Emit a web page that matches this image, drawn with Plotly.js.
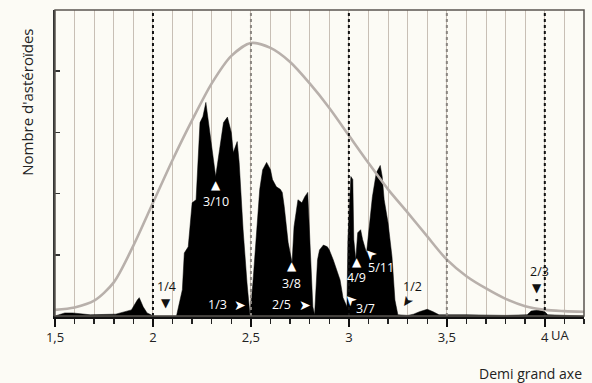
<!DOCTYPE html>
<html>
<head>
<meta charset="utf-8">
<script src="https://cdn.plot.ly/plotly-3.0.1.min.js"></script>
<style>html,body{margin:0;padding:0;background:#fcfbf5;}#chart{width:592px;height:383px;}</style>
</head>
<body>
<div id="chart"></div>
<script>
// Distribution of asteroids (black fill) by semi-major axis (AU)
const histX = [1.50,1.55,1.59,1.68,1.81,1.86,1.89,1.92,1.93,1.95,1.97,1.99,2.00,2.12,
  2.15,2.16,2.18,2.20,2.22,2.24,2.255,2.27,2.285,2.31,2.32,2.34,2.36,2.38,2.40,2.41,2.43,2.44,2.46,2.48,2.495,
  2.51,2.53,2.545,2.56,2.58,2.60,2.61,2.63,2.65,2.66,2.67,2.69,2.71,2.72,2.74,2.76,2.775,2.79,2.80,2.816,2.825,
  2.84,2.85,2.87,2.89,2.90,2.92,2.94,2.955,2.97,2.99,2.995,3.01,3.02,3.025,3.035,3.045,3.06,3.07,3.09,
  3.105,3.12,3.14,3.16,3.17,3.18,3.20,3.22,3.235,3.25,3.30,3.33,3.36,3.40,3.43,3.46,3.60,3.80,3.91,3.93,3.97,4.00,4.015,4.20];
const histY = [0,0.05,0.05,0.02,0.03,0.07,0.10,0.26,0.30,0.15,0.05,0.02,0,0,
  0.43,1.03,1.13,1.85,1.90,3.16,3.26,3.49,3.10,2.44,2.28,2.72,3.16,3.25,3.00,2.67,2.85,2.51,1.41,0.54,0.02,
  0.54,1.36,2.07,2.39,2.51,2.39,2.23,2.11,2.07,2.02,1.79,1.20,0.87,1.46,1.90,1.85,1.95,2.02,1.36,0.15,0.02,
  0.92,1.08,1.16,1.13,1.08,0.92,0.72,0.59,0.30,0.15,1.25,2.28,2.23,1.25,0.92,1.36,1.41,1.25,1.03,
  1.52,1.95,2.34,2.46,2.28,1.90,1.52,0.97,0.26,0.02,0.01,0.03,0.07,0.11,0.07,0.02,0.02,0.01,0.02,0.08,0.10,0.07,0.02,0];

// Expected smooth distribution (grey curve)
const curveX = [1.5,1.6,1.7,1.8,1.9,2.0,2.1,2.2,2.3,2.4,2.5,2.6,2.7,2.8,2.9,3.0,3.1,3.2,3.3,3.4,3.5,3.6,3.7,3.8,3.9,4.0,4.1,4.2];
const curveY = [0.10,0.14,0.25,0.55,1.15,1.85,2.55,3.20,3.80,4.25,4.46,4.38,4.15,3.80,3.40,2.95,2.50,2.07,1.69,1.30,0.92,0.65,0.45,0.28,0.16,0.10,0.08,0.07];

// Resonance labels
const resLabels = ["1/4","3/10","1/3","3/8","2/5","3/7","4/9","5/11","1/2","2/3"];
const resLabelX = [2.071,2.321,2.327,2.709,2.658,3.085,3.041,3.165,3.327,3.974];
const resLabelY = [0.49,1.87,0.18,0.53,0.18,0.13,0.63,0.79,0.48,0.72];
const resLabelColor = ["#111","#fff","#fff","#fff","#fff","#fff","#fff","#fff","#111","#111"];
const arrowGlyph = ["▼","▲","➤","▲","➤","➤","▲","➤","➤","▼"];
const arrowX = [2.066,2.321,2.444,2.709,2.776,3.005,3.041,3.107,3.301,3.959];
const arrowY = [0.21,2.14,0.18,0.81,0.18,0.25,0.88,1.00,0.22,0.45];
const arrowAngle = [0,0,0,0,0,-135,0,-135,125,0];

const tickVals = [1.5,2,2.5,3,3.5,4];
const tickText = ["1,5","2","2,5","3","3,5","4"];
const dottedAt = [2,2.5,3,3.5,4];
const dottedColor = ["#111","#8a8580","#111","#8a8580","#111"];

const FONT = "Open Sans, Noto Sans, sans-serif";

const traces = [
  {x: histX, y: histY, type:'scatter', mode:'lines', fill:'tozeroy', fillcolor:'#000',
   line:{color:'#000', width:0.5}, hoverinfo:'skip'},
  {x: curveX, y: curveY, type:'scatter', mode:'lines', line:{color:'#b8b0ab', width:2.6, shape:'spline', smoothing:0.8}, hoverinfo:'skip'}
];

const annotations = [];
for (let i=0;i<resLabels.length;i++){
  annotations.push({x:resLabelX[i], y:resLabelY[i], xref:'x', yref:'y', text:resLabels[i], showarrow:false,
    font:{family:FONT, size:12.5, color:resLabelColor[i]}});
  annotations.push({x:arrowX[i], y:arrowY[i], xref:'x', yref:'y', text:arrowGlyph[i], showarrow:false,
    textangle:arrowAngle[i], font:{family:"DejaVu Sans", size:arrowGlyph[i]==="➤"?14:12, color:resLabelColor[i]}});
}
annotations.push({x:4.0, y:0, xref:'x', yref:'paper', yanchor:'top', xanchor:'left', xshift:4, yshift:-8,
  text:'UA', showarrow:false, font:{family:FONT, size:13, color:'#222'}});
annotations.push({x:1.0, y:-0.15, xref:'paper', yref:'paper', xanchor:'right', yanchor:'top',
  text:'Demi grand axe', showarrow:false, font:{family:FONT, size:14, color:'#222'}});
annotations.push({x:-0.053, y:0.70, xref:'paper', yref:'paper', xanchor:'center', yanchor:'middle', textangle:-90,
  text:"Nombre d'astéroïdes", showarrow:false, font:{family:FONT, size:15, color:'#222'}});

const shapes = dottedAt.map((v,i)=>({type:'line', xref:'x', yref:'paper', x0:v, x1:v, y0:0, y1:1,
  line:{color:dottedColor[i], width:2, dash:'dot'}, layer:'above'}));
shapes.push({type:'rect', xref:'paper', yref:'paper', x0:0, x1:1, y0:0, y1:1, line:{color:'#5a5550', width:1.5}, layer:'above'});
shapes.push({type:'line', xref:'x', yref:'y', x0:3.952, x1:3.966, y0:0.26, y1:0.26, line:{color:'#111', width:2}, layer:'above'});

const layout = {
  width:592, height:383,
  margin:{l:55, r:8, t:10, b:67},
  paper_bgcolor:'#fcfbf5', plot_bgcolor:'#fcfbf5',
  showlegend:false,
  xaxis:{range:[1.5,4.2], tickvals:tickVals, ticktext:tickText, ticks:'outside', ticklen:8, tickwidth:2, tickcolor:'#111',
    showgrid:false, zeroline:false, showline:true, linecolor:'#111', linewidth:2.5,
    tickfont:{family:FONT, size:13, color:'#222'},
    minor:{dtick:0.1, tick0:1.5, ticks:'outside', ticklen:5, tickwidth:1.5, tickcolor:'#222', showgrid:true, gridcolor:'#c8bfb5', gridwidth:1},
    fixedrange:true},
  yaxis:{range:[0,5], tickvals:[1,2,3,4], ticktext:['','','',''], ticks:'inside', ticklen:5, tickwidth:1.5, tickcolor:'#333',
    showgrid:false, zeroline:false, showline:true, linecolor:'#333', linewidth:2, fixedrange:true},
  annotations: annotations,
  shapes: shapes
};

Plotly.newPlot('chart', traces, layout, {displayModeBar:false, staticPlot:true});
</script>
</body>
</html>
